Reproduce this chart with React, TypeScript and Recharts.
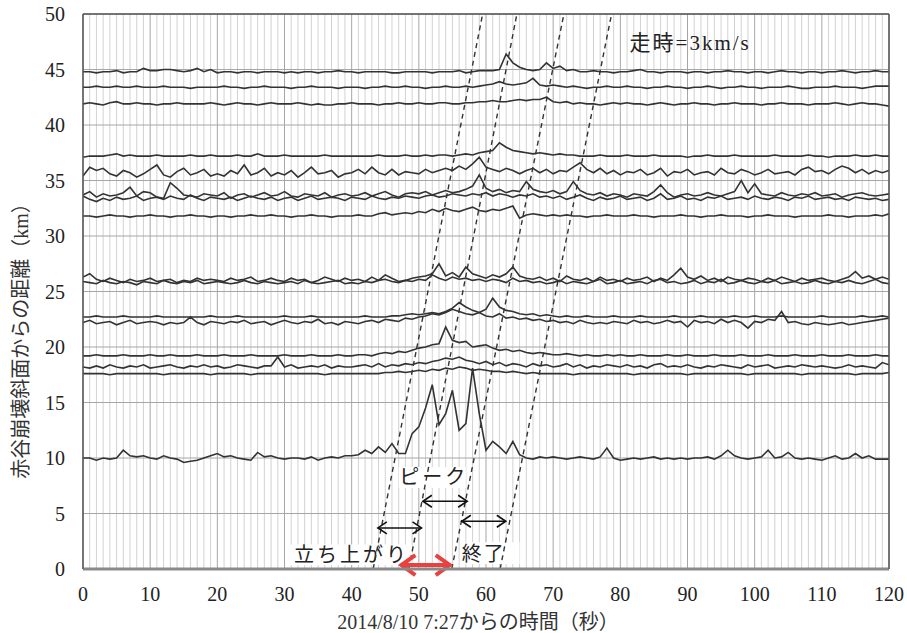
import React from 'react';
import {
  ComposedChart,
  Line,
  XAxis,
  YAxis,
  CartesianGrid,
  ReferenceLine,
  ReferenceArea,
} from 'recharts';

// ---------- axes ----------
const X_TICKS = [0, 10, 20, 30, 40, 50, 60, 70, 80, 90, 100, 110, 120];
const Y_TICKS = [0, 5, 10, 15, 20, 25, 30, 35, 40, 45, 50];
const TIMES = Array.from({ length: 121 }, (_, i) => i); // sample times (s)
const MINOR_X = TIMES.filter((t) => t % 10 !== 0);

// ---------- traces: baseline distance (km) + deviations (0.1 km units) ----------
const BASES = [44.8, 43.4, 41.9, 37.2, 35.7, 33.7, 33.4, 31.8, 26.0, 25.8, 22.7, 22.2, 19.2, 18.2, 17.6, 10.0];

const tr448 = [
  0, 0, -1, 0, 0, 1, -1, 0, 0, 3,
  1, 1, 2, 2, 1, 0, 1, 3, 0, 2,
  -1, 0, 0, -1, 0, 0, -1, 0, 0, 0,
  -1, 0, -1, 0, 0, -1, 0, 0, 1, 0,
  0, -1, 0, 0, 0, 0, -1, -1, 0, 0,
  0, 0, -1, 0, 0, 0, 1, -1, 0, 1,
  1, 1, 2, 16, 8, 4, 2, 1, 2, 8,
  3, 5, 1, 2, 0, 0, 1, 0, 0, -1,
  0, 0, 1, 2, 0, 0, -1, 0, 0, 0,
  -1, 0, 0, -1, 0, 0, 1, 0, 0, -1,
  0, 0, -1, 0, 1, 0, 0, -1, 0, 0,
  -1, 0, 0, 1, 0, -1, 0, 0, 1, 0,
  0,
];
const tr434 = [
  0, 0, 1, 0, 0, 1, 0, 0, 1, 0,
  0, 0, 1, 0, 0, 0, -1, 0, 0, 0,
  0, 1, 0, 0, -1, 0, 0, 1, 0, 0,
  0, -1, 0, 0, 1, 0, 0, 0, -1, 0,
  0, 0, -1, 0, 0, 1, 0, 0, 1, 0,
  0, -1, 0, 0, 1, 0, 0, 1, 0, 1,
  2, 3, 5, 3, 2, 3, 4, 8, 2, 1,
  2, 1, 0, 1, 0, -1, 0, 0, 1, 0,
  0, 1, 0, 0, -1, 0, 0, 1, 0, 0,
  -1, 0, 0, 1, 0, -1, 0, 0, 1, 0,
  0, -1, 0, 0, 0, 1, 0, -1, -1, 0,
  0, 0, 1, 0, 0, 0, -1, 0, 1, 1,
  1,
];
const tr419 = [
  0, 1, 0, -1, 1, 2, 0, 0, 1, 0,
  0, -1, 0, 0, 1, 0, 0, 0, 0, 1,
  0, -1, 0, 1, 0, 0, -1, 0, 1, 0,
  0, 0, 1, 0, -1, 0, -1, -1, 0, 0,
  1, 0, 0, 0, -1, 0, 0, 1, 0, 0,
  1, 0, 0, 1, 1, 0, 0, 1, 1, 2,
  2, 3, 2, 2, 3, 4, 3, 4, 4, 6,
  2, 1, 2, 0, 1, 0, 0, -1, 0, 1,
  0, 1, 0, 0, -1, 0, 1, 0, -1, 0,
  0, 1, 0, 0, -1, 0, 0, 1, 0, 0,
  0, -1, 0, 0, 1, 0, 0, 0, -1, 0,
  0, 0, 1, 0, -1, 0, 1, 0, 0, -1,
  -2,
];
const tr372 = [
  -1, 0, 0, 0, 1, 2, 0, 1, 0, 0,
  0, 1, 0, 0, 0, 0, 1, 0, 0, 1,
  0, 0, 0, 1, 0, 0, 2, 0, 0, 0,
  1, 0, 0, 0, 0, 0, 1, 0, 0, 0,
  0, 0, 0, 0, 1, 0, 0, 0, 1, 0,
  0, 1, 0, 1, 1, 0, 1, 2, 1, 3,
  4, 5, 12, 8, 5, 4, 3, 2, 3, 2,
  1, 2, 1, 1, 0, 0, 0, 1, 0, 0,
  0, 1, 0, 0, 0, 1, 0, 0, 0, 0,
  -1, 0, 0, 1, 0, 0, 0, 1, 0, 0,
  0, 0, 0, 1, 0, 0, 0, 0, 1, 0,
  0, -1, 0, 0, 0, 1, 0, 0, 1, 0,
  0,
];
const tr357 = [
  -3, 5, 2, 4, -1, -3, 2, 0, -4, -1,
  3, 7, -2, -4, 1, 4, -2, 0, 3, -3,
  -1, -3, 2, -1, 7, -2, 0, 4, -3, 0,
  -2, 2, -4, 0, 5, -1, 0, 2, -4, -1,
  0, 3, -1, 5, 0, -2, 3, -2, 1, 0,
  -1, 3, 0, 2, 4, 2, 6, 3, 8, 14,
  5, 3, 1, 4, 2, -1, 2, 4, 0, 3,
  -1, 2, 1, 5, 9, 3, 0, 4, -1, 2,
  -2, 1, 0, 3, -2, 0, 4, -3, 1, 0,
  3, -2, 0, 1, -2, 4, 0, -1, 3, 1,
  -2, 0, 3, -1, 0, 1, -2, 3, 5, 1,
  2, -1, 3, 6, 4, 0, 3, -1, 2, 0,
  2,
];
const tr337 = [
  0, 3, -2, 1, -1, 0, 2, 7, -1, 3,
  2, -2, -3, 11, 6, 0, -1, -2, 1, 0,
  -1, 2, -3, 0, 1, -2, 0, 2, -1, 0,
  3, -1, -2, 1, 0, -1, 2, -2, 0, 1,
  -1, 0, 2, -1, 1, 3, 0, -2, 1, 2,
  1, 3, 0, 2, 4, 2, 3, 5, 8, 18,
  6, 3, 5, 2, 4, 3, 12, 5, 3, 2,
  4, 1, 3, 12, 4, 1, 0, 2, -1, 1,
  0, -2, 1, 0, -1, 3, 9, 2, -2, 0,
  1, -1, 0, 2, 0, -1, 1, 3, 13, 2,
  10, 1, 0, -1, 2, 0, -1, 1, 0, 2,
  -1, 0, 1, -2, 0, 1, 2, 0, -1, 0,
  1,
];
const tr334 = [
  2, -1, -3, 0, -2, 1, -1, 0, 2, -2,
  0, 1, -1, 2, 0, -1, 3, 0, -2, 1,
  0, -1, 1, -2, 0, 2, 0, -1, 1, -2,
  0, 1, -2, 0, 2, -1, 0, 1, 0, -2,
  1, 0, -1, 2, 0, -1, 1, 0, 2, 1,
  0, 2, 3, 1, 2, 4, 3, 2, 4, 3,
  5, 2, 4, 3, 1, 3, 2, 4, 1, 2,
  0, 2, -1, 1, 3, 0, -2, 1, -1, 0,
  2, -1, 0, 1, -2, 0, 4, -1, 0, 2,
  -1, 0, -2, 1, 0, 2, -1, 0, 1, -1,
  2, 0, -1, 1, 0, -2, 1, 0, 2, -1,
  0, 1, -1, 0, -2, 1, 0, -1, 0, -2,
  -1,
];
const tr318 = [
  0, 0, -1, 0, 1, 0, 0, -1, 0, 0,
  1, 0, 0, -1, 0, 0, 1, 0, 0, -1,
  0, 0, -1, 0, 0, 1, 0, 0, 1, 0,
  0, -1, 0, 0, 1, 0, 0, -1, 0, 0,
  0, 1, 0, 0, 2, 3, 1, 2, 3, 2,
  4, 3, 6, 4, 7, 5, 4, 6, 8, 5,
  4, 6, 5, 7, 9, -2, 1, 2, 1, 0,
  1, 0, 1, 0, 0, -1, 0, 0, 1, 0,
  0, 0, 1, 0, 0, -1, 0, 0, 0, 1,
  0, 0, -1, 0, 0, 1, 0, 0, 0, -1,
  0, 0, 1, 0, 0, 0, -1, 0, 0, 0,
  0, 1, 0, 0, -1, 0, 0, 0, 1, 0,
  2,
];
const tr260 = [
  3, 6, 1, -1, 2, 0, -2, 1, -1, 0,
  2, -1, 0, 1, -2, 0, -1, 2, 0, 1,
  0, -1, 2, 0, 1, 3, -1, 0, 2, 0,
  -1, 2, 0, 1, -2, 0, 3, 1, -1, 2,
  0, 1, -1, 3, 0, 5, 2, -1, 0, 2,
  3, 4, 6, 15, 4, 7, 3, 12, 6, 4,
  2, 5, 3, 6, 12, 4, 2, 1, 3, 0,
  2, -1, 4, 1, 0, 2, -1, 3, 0, 1,
  -1, 2, 0, 1, 3, -1, 2, 0, 5, 11,
  3, 1, 4, 0, 2, -1, 3, 1, 0, 2,
  1, -1, 2, 0, 3, 1, -1, 2, 0, 1,
  2, 0, -1, 1, 3, 8, 2, 4, 1, 3,
  1,
];
const tr258 = [
  1, 0, -1, 2, 0, -1, 1, 0, -2, 1,
  0, -1, 2, 0, -1, 1, 0, 2, -1, 0,
  1, 0, -1, 0, 2, 0, -1, 1, 0, -1,
  0, 1, -1, 2, 0, -1, 0, 1, 2, -1,
  0, -1, 1, 0, 2, 3, 1, 0, 2, 1,
  3, 2, 7, 4, 2, 5, 3, 4, 2, 3,
  1, 3, 2, 0, 4, 1, 2, 0, 1, -1,
  0, 2, -1, 1, 0, -1, 1, 3, -1, 0,
  2, -1, 0, 1, -1, 2, 3, 0, 1, -1,
  0, 2, -1, 1, 0, 3, -1, 0, 2, 0,
  -1, 1, 0, 2, -1, 0, 1, -1, 0, 2,
  0, -1, 1, 0, 2, 0, -1, 1, 3, 0,
  -1,
];
const tr227 = [
  0, 0, 1, 0, 0, 0, 1, 0, 0, 0,
  0, 1, 0, 0, 0, 0, 0, 0, 0, 1,
  0, 0, 0, 1, 0, 0, 0, 0, 0, 0,
  1, 0, 0, 0, 1, 0, 0, 0, 0, 0,
  0, 0, 1, 0, 0, 0, 1, 1, 2, 3,
  2, 3, 4, 3, 5, 8, 13, 9, 6, 4,
  7, 17, 9, 6, 5, 3, 2, 3, 1, 2,
  1, 0, 1, 0, 0, 1, 0, 0, 0, 1,
  0, 0, 0, 1, 0, 0, 0, 0, 1, 0,
  0, 0, 1, 0, 0, 0, 0, 1, 0, 0,
  1, 0, 0, 0, 1, 0, 0, 0, 0, 0,
  1, 0, 0, 0, 0, 0, 1, 0, 0, 1,
  0,
];
const tr222 = [
  0, 2, -1, 0, 1, -2, 0, 2, -1, 0,
  1, 0, -2, 0, -1, 0, 5, 0, -2, 1,
  0, -1, 1, 0, 2, -1, 0, 1, -2, 0,
  2, 0, -1, 1, 0, 3, -1, 0, -2, 1,
  0, -1, 1, 2, 0, 3, 2, 1, 4, 3,
  5, 6, 8, 7, 9, 12, 10, 8, 7, 9,
  6, 5, 8, 4, 5, 3, 4, 2, 3, 1,
  2, 0, 1, -1, 2, 0, -1, 0, -1, 1,
  0, -1, 2, 0, 1, -1, 0, 2, 0, 1,
  -4, 2, 0, 1, -1, 3, 0, 2, 0, -5,
  1, 0, 3, 2, 10, 0, 1, -1, -2, 0,
  -1, -2, -1, 0, -2, -1, 0, 1, 2, 3,
  4,
];
const tr192 = [
  0, 0, 1, 0, 0, 0, 1, 0, 0, 0,
  1, 0, 0, 1, 0, 0, 0, 1, 0, 0,
  0, 1, 0, 0, 0, 1, 0, 0, 0, 0,
  1, 0, 0, 0, 1, 0, 0, 0, 1, 0,
  0, 1, 1, 0, 2, 3, 2, 4, 3, 5,
  7, 8, 10, 11, 26, 14, 12, 13, 8, 9,
  10, 7, 5, 6, 4, 5, 3, 2, 3, 2,
  1, 1, 2, 1, 0, 1, 0, 0, 1, 0,
  1, 0, 0, 1, 0, 0, 0, 1, 0, 0,
  1, 0, 0, 0, 1, 0, 0, 0, 1, 0,
  0, 0, 1, 0, 0, 0, 1, 0, 0, 0,
  1, 0, 0, 0, 1, 0, 0, 0, 1, 0,
  0,
];
const tr182 = [
  0, -1, 1, -1, 2, 0, -1, 1, 0, 2,
  -1, 0, 1, 2, 0, -1, 1, 0, 2, 0,
  1, -1, 0, 2, 1, 0, -1, 1, 1, 9,
  0, 2, -1, 0, 1, 0, 2, -1, 1, 0,
  0, 1, 2, 0, 3, 0, 2, 1, 3, 2,
  4, 3, 5, 6, 8, 7, 9, 6, 5, 3,
  5, 2, 4, 1, 3, 2, 0, 3, 1, 2,
  0, 1, 3, 0, 2, -1, 1, 0, 2, 1,
  0, 2, 0, 1, -1, 2, 3, 0, 1, 0,
  2, 0, -1, 1, 0, 2, 1, 0, -1, 2,
  0, 1, 2, -1, 0, 1, 0, 2, 1, 0,
  1, 0, -1, 0, 2, 0, 1, 0, -1, 4,
  2,
];
const tr176 = [
  0, 0, 0, 0, -1, 0, 0, 0, 0, 0,
  0, 0, -1, 0, 0, 0, 0, 0, 0, -1,
  0, 0, 0, 0, 0, -1, 0, 0, 0, 0,
  0, 0, 0, 0, 0, 0, -1, 0, 0, 0,
  0, 0, 0, 0, 0, 1, 1, 2, 1, 2,
  3, 2, 4, 3, 5, 4, 6, 5, 3, 4,
  3, 2, 2, 1, 2, 1, 0, 1, 0, 0,
  0, 0, 0, -1, 0, 0, 0, 0, 0, 0,
  0, 0, -1, 0, 0, 0, 0, 0, 0, 0,
  -1, 0, 0, 0, 0, 0, 0, 0, 0, -1,
  0, 0, 0, 0, 0, 0, 0, -1, 0, 0,
  0, 0, 0, 0, 0, -1, 0, 0, 0, 0,
  1,
];
const tr100 = [
  0, 0, -2, 0, -1, 0, 7, 2, 1, 2,
  0, -1, 2, 0, -1, -4, -3, -2, 0, 2,
  4, 1, 2, 0, -1, -2, 5, 1, 2, 0,
  -1, 0, 0, -1, 1, -2, 0, 1, 0, 2,
  2, 3, 7, 4, 10, 5, 13, 4, 4, 22,
  28, 45, 66, 30, 40, 61, 25, 31, 81, 40,
  7, 15, 10, 4, 15, 3, 0, -1, 1, 0,
  1, 0, -1, 0, 1, 0, -1, 1, 9, 0,
  -2, -1, 0, -1, 0, 1, -1, 0, -1, 0,
  -1, 0, 0, 1, -1, 2, 7, 2, 0, -1,
  0, 1, 7, 0, 1, 5, 0, -1, 0, -1,
  -2, 0, 2, -1, 0, 4, 0, 2, -1, -1,
  -1,
];

const TRACE_DEVS = [tr448, tr434, tr419, tr372, tr357, tr337, tr334, tr318, tr260, tr258, tr227, tr222, tr192, tr182, tr176, tr100];

// ---------- annotations ----------
// travel-time lines (3 km/s): [time at 0 km, time at 50 km]
const WAVE_FRONTS = [
  [43.2, 59.5],
  [48.5, 64.6],
  [54.9, 71.6],
  [62.1, 78.7],
];
// double arrows: [from t, to t, distance]
const BLACK_ARROWS = [
  [43.9, 50.4, 3.7],
  [50.6, 57.2, 6.1],
  [56.4, 62.95, 4.3],
];
const RED_ARROW = [47.4, 54.6, 0.36];

// build table for recharts
const DATA = TIMES.map((t, i) => {
  const row: Record<string, number> = { t };
  TRACE_DEVS.forEach((dev, k) => {
    row['s' + k] = Math.round((BASES[k] + dev[i] / 10) * 100) / 100;
  });
  return row;
});

const SERIF = "'Liberation Serif', 'Times New Roman', 'Noto Sans CJK JP', serif";
const MIXED = "'Liberation Serif', 'Noto Sans CJK JP', serif";

const makeArrow = (color: string, w: number, head: number, half: number) => (p: any) => {
  const { x1, y1, x2, y2 } = p;
  const l = Math.min(x1, x2);
  const r = Math.max(x1, x2);
  const y = (y1 + y2) / 2;
  return (
    <g>
      <line x1={l + 1} y1={y} x2={r - 1} y2={y} stroke={color} strokeWidth={w} />
      <polyline
        points={`${l + head},${y - half} ${l},${y} ${l + head},${y + half}`}
        fill="none"
        stroke={color}
        strokeWidth={w}
        strokeLinejoin="miter"
      />
      <polyline
        points={`${r - head},${y - half} ${r},${y} ${r - head},${y + half}`}
        fill="none"
        stroke={color}
        strokeWidth={w}
        strokeLinejoin="miter"
      />
    </g>
  );
};

const textLabel = (text: string, size: number, spacing = 0) => (p: any) => {
  const vb = p.viewBox || {};
  return (
    <text
      x={vb.x + vb.width / 2 + spacing / 2}
      y={vb.y + vb.height / 2}
      textAnchor="middle"
      dominantBaseline="central"
      fontSize={size}
      letterSpacing={spacing}
      fontFamily={MIXED}
      fill="#222"
    >
      {text}
    </text>
  );
};

export default function App() {
  return (
    <div style={{ position: 'absolute', left: 0, top: 0, width: 907, height: 633, background: '#fff' }}>
      <ComposedChart
        width={907}
        height={633}
        data={DATA}
        margin={{ top: 14, right: 18, left: 0, bottom: 0 }}
      >
        {MINOR_X.map((t) => (
          <ReferenceLine key={'m' + t} x={t} stroke="#d2d2d2" strokeWidth={1} zIndex={-110} />
        ))}
        <CartesianGrid stroke="#a6a6a6" strokeWidth={1} />
        <XAxis
          dataKey="t"
          type="number"
          domain={[0, 120]}
          ticks={X_TICKS}
          allowDataOverflow
          height={64}
          tickLine={false}
          tickSize={0}
          tickMargin={18}
          axisLine={{ stroke: '#8a8a8a', strokeWidth: 3 }}
          tick={{ fontSize: 20, fontFamily: SERIF, fill: '#222' }}
        />
        <YAxis
          type="number"
          domain={[0, 50]}
          ticks={Y_TICKS}
          allowDataOverflow
          width={83}
          tickLine={false}
          tickSize={0}
          tickMargin={18}
          axisLine={{ stroke: '#555', strokeWidth: 1.5 }}
          tick={{ fontSize: 20, fontFamily: SERIF, fill: '#222' }}
        />
        <ReferenceLine y={50} stroke="#555" strokeWidth={1.5} zIndex={500} />
        <ReferenceLine x={120} stroke="#555" strokeWidth={1.5} zIndex={500} />

        {TRACE_DEVS.map((_, k) => (
          <Line
            key={'s' + k}
            dataKey={'s' + k}
            type="linear"
            stroke="#333"
            strokeWidth={1.6}
            dot={false}
            activeDot={false}
            isAnimationActive={false}
          />
        ))}

        {/* white boxes behind labels */}
        <ReferenceArea x1={47} x2={57} y1={7.3} y2={9.2} fill="#fff" fillOpacity={1} stroke="none" zIndex={420} label={textLabel('ピーク', 20, 3)} />
        <ReferenceArea x1={30.5} x2={49} y1={0.35} y2={2.2} fill="#fff" fillOpacity={1} stroke="none" zIndex={420} label={textLabel('立ち上がり', 20, 3)} />
        <ReferenceArea x1={56.5} x2={65} y1={0.45} y2={2.4} fill="#fff" fillOpacity={1} stroke="none" zIndex={420} />
        <ReferenceArea x1={56.5} x2={62.5} y1={0.45} y2={2.2} fill="none" fillOpacity={0} stroke="none" zIndex={420} label={textLabel('終了', 20, 2)} />
        <ReferenceArea x1={80.5} x2={100} y1={46.3} y2={48.5} fill="none" fillOpacity={0} stroke="none" zIndex={420} label={textLabel('走時=3km/s', 21, 2)} />

        {WAVE_FRONTS.map(([a, b], i) => (
          <ReferenceLine
            key={'w' + i}
            segment={[{ x: a, y: 0 }, { x: b, y: 50 }]}
            stroke="#333"
            strokeWidth={1.4}
            strokeDasharray="5 4"
            zIndex={450}
          />
        ))}
        {BLACK_ARROWS.map(([a, b, d], i) => (
          <ReferenceLine
            key={'a' + i}
            segment={[{ x: a, y: d }, { x: b, y: d }]}
            shape={makeArrow('#111', 1.6, 9, 6)}
            zIndex={470}
          />
        ))}
        <ReferenceLine
          segment={[{ x: RED_ARROW[0], y: RED_ARROW[2] }, { x: RED_ARROW[1], y: RED_ARROW[2] }]}
          shape={makeArrow('#e8413f', 4, 14, 10)}
          zIndex={480}
        />
      </ComposedChart>

      <div
        style={{
          position: 'absolute',
          left: 75,
          top: 611,
          width: 806,
          textAlign: 'center',
          fontSize: 20,
          lineHeight: '22px',
          fontFamily: MIXED,
          color: '#333',
          whiteSpace: 'nowrap',
        }}
      >
        2014/8/10 7:27からの時間（秒）
      </div>
      <div
        style={{
          position: 'absolute',
          left: 21 - 200,
          top: 336 - 12,
          width: 400,
          height: 24,
          lineHeight: '24px',
          textAlign: 'center',
          transform: 'rotate(-90deg)',
          transformOrigin: '50% 50%',
          fontSize: 20,
          fontFamily: MIXED,
          color: '#333',
          whiteSpace: 'nowrap',
        }}
      >
        赤谷崩壊斜面からの距離（km）
      </div>
    </div>
  );
}
